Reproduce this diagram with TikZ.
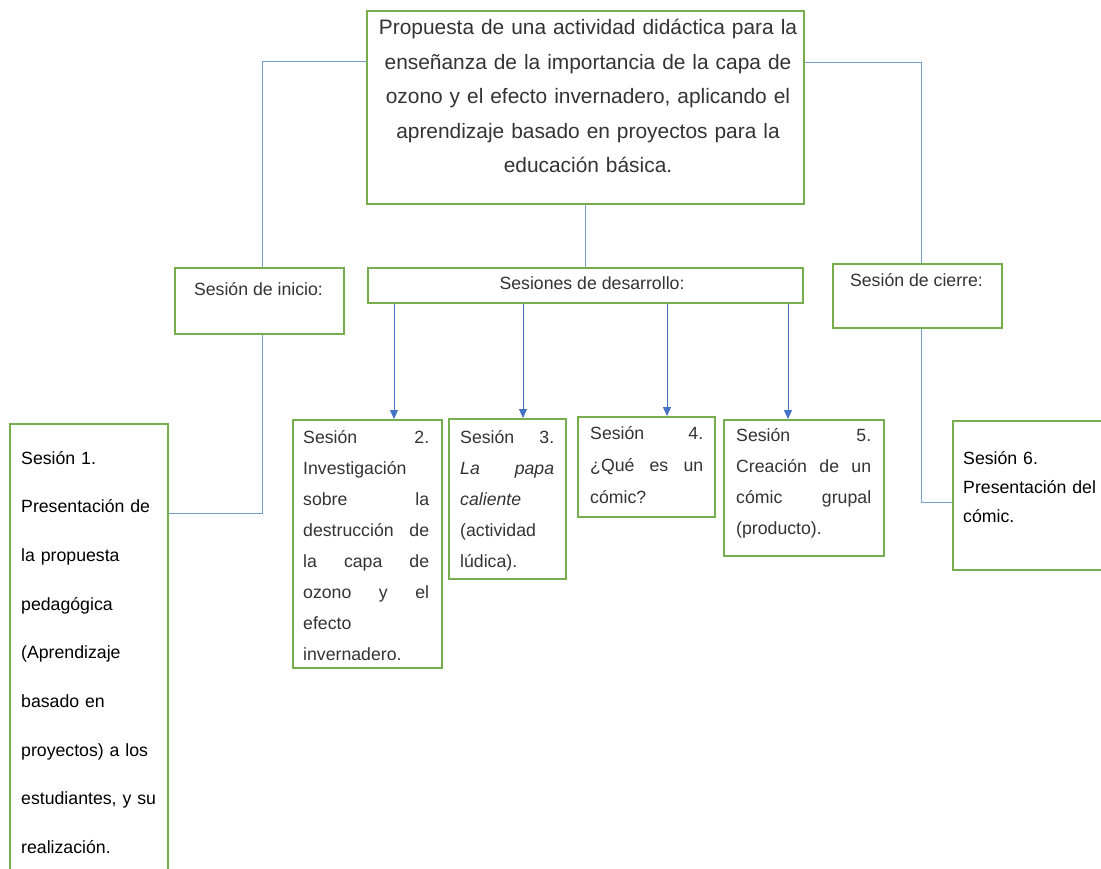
\documentclass[tikz,border=0pt]{standalone}
\usepackage{fontspec}
\setmainfont{Liberation Sans}
\usetikzlibrary{arrows.meta}
\definecolor{gbox}{HTML}{76AE4E}
\definecolor{cline}{HTML}{7A9BCF}
\definecolor{carrow}{HTML}{4472C4}
\definecolor{txt}{HTML}{333333}
\newcommand\jf{\hskip 0pt plus 1filll\relax}
\begin{document}
\begin{tikzpicture}[x=1pt,y=-1pt,
  box/.style={draw=gbox, line width=1.8pt, inner sep=0pt, anchor=north west},
  conn/.style={draw=cline, line width=1pt},
  arr/.style={draw=carrow, line width=0.9pt, -{Triangle[width=8pt,length=9pt]}},
  sm/.style={font=\fontsize{17.7}{31}\selectfont, text=txt, inner sep=0pt},
  bigt/.style={font=\fontsize{20.9}{34.5}\selectfont, text=txt, inner sep=0pt}]
\useasboundingbox (0,0) rectangle (1101,869);
% boxes
\node[box, minimum width=437pt, minimum height=193pt] (top) at (366,10) {};
\node[box, minimum width=169pt, minimum height=66pt] (ini) at (174,267) {};
\node[box, minimum width=435pt, minimum height=35pt] (des) at (367,267) {};
\node[box, minimum width=169pt, minimum height=64pt] (cie) at (832,263) {};
\node[box, minimum width=158pt, minimum height=460pt] (s1) at (9,423) {};
\node[box, minimum width=149pt, minimum height=248pt] (s2) at (292,419) {};
\node[box, minimum width=117pt, minimum height=160pt] (s3) at (448,418) {};
\node[box, minimum width=137pt, minimum height=100pt] (s4) at (577,416) {};
\node[box, minimum width=160pt, minimum height=136pt] (s5) at (723,419) {};
\node[box, minimum width=160pt, minimum height=149pt] (s6) at (952,420) {};
% texts
\node[bigt, text width=440pt, align=center, anchor=base] (ttop) at (588,35)
 {Propuesta de una actividad didáctica para la\\enseñanza de la importancia de la capa de\\ozono y el efecto invernadero, aplicando el\\aprendizaje basado en proyectos para la\\educación básica.};
\node[sm, anchor=base] (tini) at (258.5,296) {Sesión de inicio:};
\node[sm, anchor=base] (tdes) at (592,290) {Sesiones de desarrollo:};
\node[sm, anchor=base] (tcie) at (916.5,287) {Sesión de cierre:};
\node[sm, text=black, font=\fontsize{17.7}{48.7}\selectfont, text width=145pt, align=left, anchor=base west] (t1) at (21,464)
 {Sesión 1.\\Presentación de\\la propuesta\\pedagógica\\(Aprendizaje\\basado en\\proyectos) a los\\estudiantes, y su\\realización.};
\node[sm, text width=126pt, align=left, anchor=base west] (t2) at (303,443)
 {Sesión\jf 2.\\Investigación\\sobre\jf la\\destrucción\jf de\\la\jf capa\jf de\\ozono\jf y\jf el\\efecto\\invernadero.};
\node[sm, text width=94pt, align=left, anchor=base west] (t3) at (460,443)
 {Sesión\jf 3.\\\textit{La}\jf\textit{papa}\\\textit{caliente}\\(actividad\\lúdica).};
\node[sm, font=\fontsize{17.7}{32}\selectfont, text width=113pt, align=left, anchor=base west] (t4) at (590,439)
 {Sesión\jf 4.\\¿Qué\jf es\jf un\\cómic?};
\node[sm, text width=135pt, align=left, anchor=base west] (t5) at (736,441)
 {Sesión\jf 5.\\Creación\jf de\jf un\\cómic\jf grupal\\(producto).};
\node[sm, text=black, font=\fontsize{17.7}{29}\selectfont, text width=140pt, align=left, anchor=base west] (t6) at (963,464)
 {Sesión 6.\\Presentación del\\cómic.};
% connector corners
\coordinate (cL) at (262,62);
\coordinate (cR) at (921,63);
\coordinate (c1) at (262,513);
\coordinate (c6) at (921,502);
\draw[conn] (top.west |- cL) -- (cL) -- (cL |- ini.north);
\draw[conn] (cL |- ini.south) -- (c1) -- (c1 -| s1.east);
\draw[conn] (top.east |- cR) -- (cR) -- (cR |- cie.north);
\draw[conn] (cR |- cie.south) -- (c6) -- (c6 -| s6.west);
\draw[conn] (top.south) -- (des.north);
% arrows
\coordinate (a2) at (394,0);
\coordinate (a3) at (523,0);
\coordinate (a4) at (667,0);
\coordinate (a5) at (788,0);
\draw[arr] (a2 |- des.south) -- (a2 |- s2.north);
\draw[arr] (a3 |- des.south) -- (a3 |- s3.north);
\draw[arr] (a4 |- des.south) -- (a4 |- s4.north);
\draw[arr] (a5 |- des.south) -- (a5 |- s5.north);
\end{tikzpicture}
\end{document}
